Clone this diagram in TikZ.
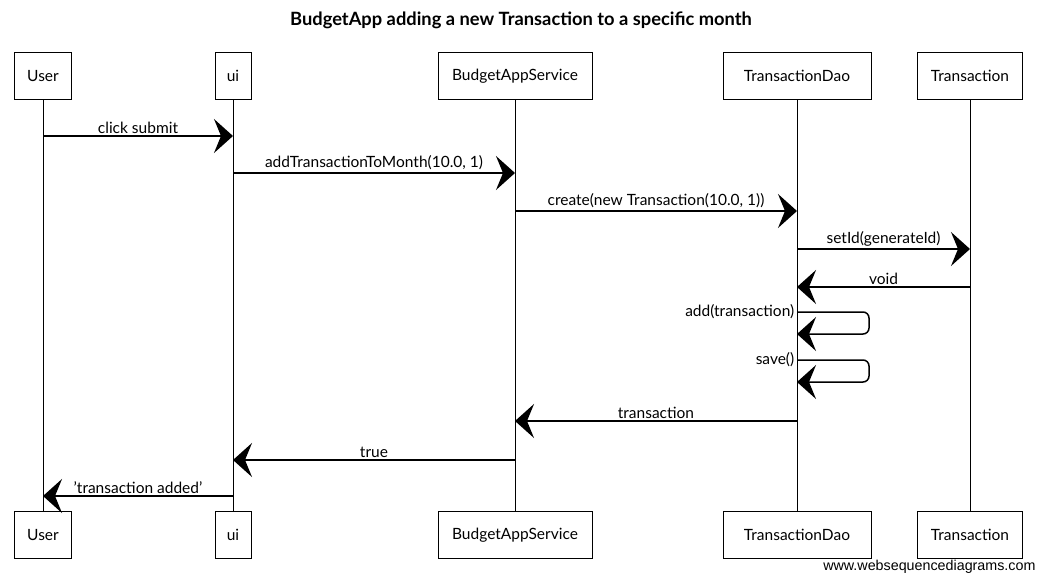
\documentclass[tikz,border=0pt]{standalone}
\usepackage{fontspec}
\setmainfont{Lato}
\newfontfamily\footfont{Liberation Sans}
\usepackage{tikz}
\usetikzlibrary{arrows.meta}

\begin{document}
\begin{tikzpicture}[x=1pt, y=-1pt, line width = 1pt,
    actor/.style = {draw, rectangle, minimum height = 47pt, inner sep = 0pt, font = \fontsize{15.5}{17}\selectfont},
    life/.style = {line width = 0.8pt},
    msg/.style = {line width = 1.5pt, -{Stealth[length=19pt, width=34pt, inset=7pt]}},
    lbl/.style = {font = \fontsize{15.5}{17}\selectfont, inner sep = 2pt}]
\useasboundingbox (0,0) rectangle (1043,581);
\node[font = \bfseries\fontsize{18.3}{20}\selectfont] (title) at (521,20) {BudgetApp adding a new Transaction to a specific month};
\draw (43,76) node[actor, minimum width = 57pt](a1){User}
    (233,76) node[actor, minimum width = 36pt](a2){ui}
    (515,76) node[actor, minimum width = 154pt](a3){BudgetAppService}
    (797,76) node[actor, minimum width = 148pt](a4){TransactionDao}
    (970,76) node[actor, minimum width = 105pt](a5){Transaction};
\draw (43,535) node[actor, minimum width = 57pt](b1){User}
    (233,535) node[actor, minimum width = 36pt](b2){ui}
    (515,535) node[actor, minimum width = 154pt](b3){BudgetAppService}
    (797,535) node[actor, minimum width = 148pt](b4){TransactionDao}
    (970,535) node[actor, minimum width = 105pt](b5){Transaction};
    \draw [life] (a1) -- (b1);
    \draw [life] (a2) -- (b2);
    \draw [life] (a3) -- (b3);
    \draw [life] (a4) -- (b4);
    \draw [life] (a5) -- (b5);
\coordinate (m1) at (0,136);
\coordinate (m2) at (0,173);
\coordinate (m3) at (0,211);
\coordinate (m4) at (0,249);
\coordinate (m5) at (0,287);
\coordinate (m6) at (0,312);
\coordinate (m7) at (0,360);
\coordinate (m8) at (0,421);
\coordinate (m9) at (0,460);
\coordinate (m10) at (0,496);
    \draw [msg] (a1 |- m1) -- (a2 |- m1) node[midway,lbl,above] {click submit};
    \draw [msg] (a2 |- m2) -- (a3 |- m2) node[midway,lbl,above] {addTransactionToMonth(10.0, 1)};
    \draw [msg] (a3 |- m3) -- (a4 |- m3) node[midway,lbl,above] {create(new Transaction(10.0, 1))};
    \draw [msg] (a4 |- m4) -- (a5 |- m4) node[midway,lbl,above] {setId(generateId)};
    \draw [msg] (a5 |- m5) -- (a4 |- m5) node[midway,lbl,above] {void};
    \draw [msg, rounded corners = 6pt] (a4 |- m6) node[lbl,left] {add(transaction)} -- ++(72,0) -- ++(0,22) -- ++(-72,0);
    \draw [msg, rounded corners = 6pt] (a4 |- m7) node[lbl,left] {save()} -- ++(72,0) -- ++(0,22) -- ++(-72,0);
    \draw [msg] (a4 |- m8) -- (a3 |- m8) node[midway,lbl,above] {transaction};
    \draw [msg] (a3 |- m9) -- (a2 |- m9) node[midway,lbl,above] {true};
    \draw [msg] (a2 |- m10) -- (a1 |- m10) node[midway,lbl,above] {'transaction added'};
\node[anchor = east, font = \footfont\fontsize{14.3}{16}\selectfont, inner sep = 0pt] (web) at (1036,567) {www.websequencediagrams.com};
\end{tikzpicture}
\end{document}
